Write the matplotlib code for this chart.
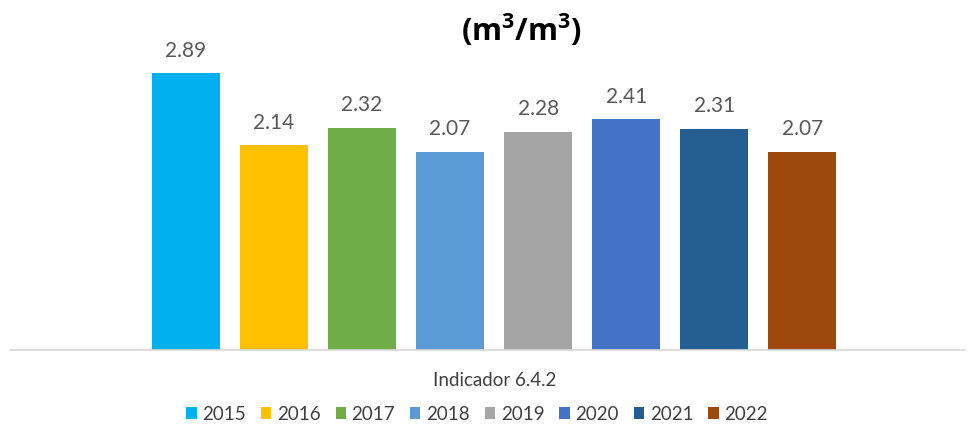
import matplotlib
matplotlib.use("Agg")
import matplotlib.pyplot as plt
from matplotlib.patches import Patch

years = ["2015", "2016", "2017", "2018", "2019", "2020", "2021", "2022"]
values = [2.89, 2.14, 2.32, 2.07, 2.28, 2.41, 2.31, 2.07]
colors = ["#00B0F0", "#FFC000", "#70AD47", "#5B9BD5", "#A5A5A5", "#4472C4", "#255E91", "#9E480E"]
category = "Indicador 6.4.2"
title = r"(m$^{\mathbf{3}}$/m$^{\mathbf{3}}$)"

plt.rcParams['font.family'] = ['Lato', 'DejaVu Sans']
plt.rcParams['mathtext.fontset'] = 'custom'
plt.rcParams['mathtext.bf'] = 'Open Sans:bold'
plt.rcParams['mathtext.rm'] = 'Open Sans:bold'

fig = plt.figure(figsize=(9.72, 4.26), dpi=100)
ax = fig.add_axes([10/972, 1 - 350/426, 955/972, (350 - 15)/426])

xs = list(range(len(values)))
ax.bar(xs, values, width=0.77, color=colors)
for x, v in zip(xs, values):
    ax.annotate(f"{v:.2f}", (x, v), xytext=(0, 9), textcoords="offset points",
                ha="center", va="bottom", fontsize=15, color="#595959")

ax.set_xlim(-2.0, 8.85)
ax.set_ylim(0, 3.5)
for s in ["top", "right", "left"]:
    ax.spines[s].set_visible(False)
ax.spines["bottom"].set_color("#D9D9D9")
ax.spines["bottom"].set_linewidth(1.2)
ax.set_xticks([])
ax.set_yticks([])

fig.text(521/972, 1 - 30/426, title, ha="center", va="center", fontsize=22,
         fontweight="bold", family=["Open Sans", "DejaVu Sans"], color="black")
fig.text(495/972, 1 - 380/426, category, ha="center", va="center", fontsize=13.5,
         color="#404040")

handles = [Patch(facecolor=c, edgecolor="none") for c in colors]
fig.legend(handles, years, loc="center", bbox_to_anchor=(477/972, 1 - 414/426), ncol=8,
           frameon=False, fontsize=13.5, handlelength=0.55, handleheight=0.55,
           handletextpad=0.3, columnspacing=0.8, labelcolor="#404040")

fig.savefig("out.png", dpi=100)
